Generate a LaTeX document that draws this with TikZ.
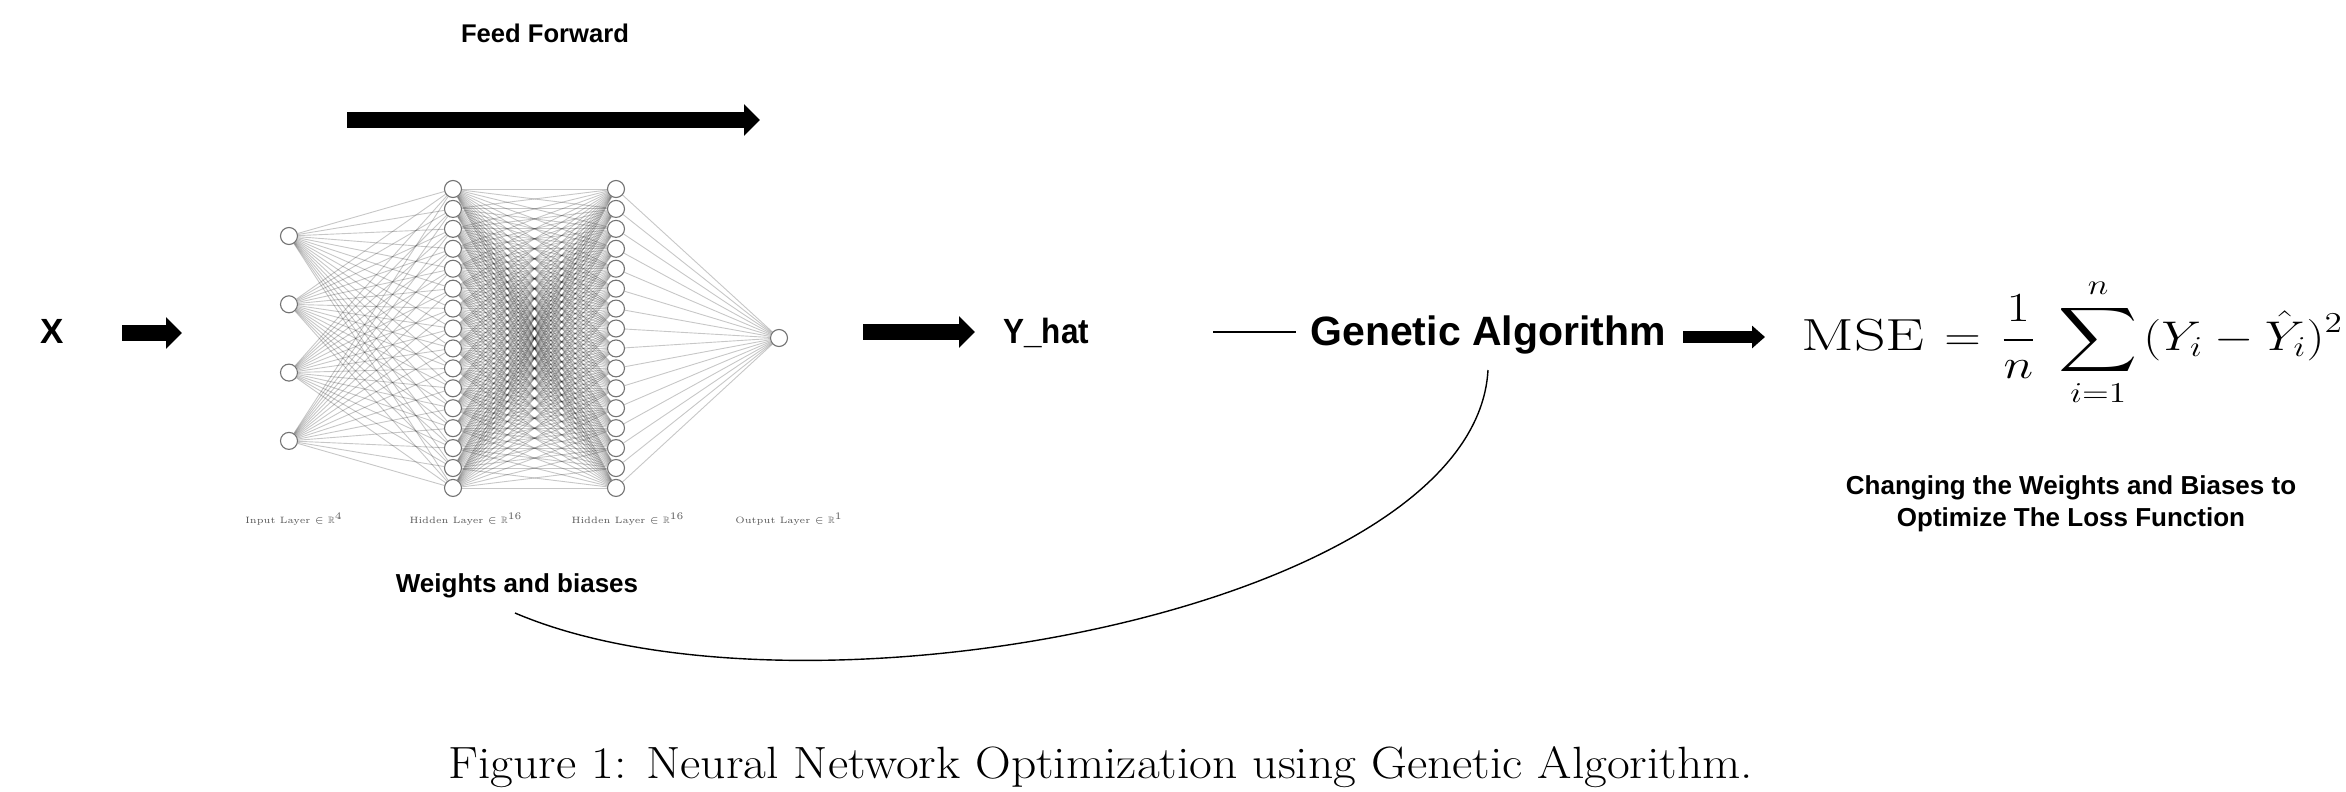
\documentclass[tikz,border=0pt]{standalone}
\usepackage{amsmath}
\usepackage{amssymb}
\usepackage{graphicx}
\usepackage{fontspec}
\newfontfamily\arialfont{Liberation Sans}
\usetikzlibrary{arrows.meta,backgrounds}
\begin{document}
\begin{tikzpicture}[x=0.5pt,y=-0.5pt,
  neuron/.style={circle,draw=black!55,fill=white,line width=0.55pt,minimum size=8.5pt,inner sep=0pt},
  syn/.style={draw=black,draw opacity=0.22,line width=0.45pt},
  fatarrow/.style={line width=8pt,-{Triangle[width=15.5pt,length=8pt]}},
  gaarrow/.style={line width=6pt,-{Triangle[width=11pt,length=6.5pt]}},
  thinline/.style={line width=0.7pt},
  sanslab/.style={inner sep=0pt,font={\arialfont\fontsize{#1}{#1}\selectfont\bfseries}},
  layerlab/.style={inner sep=0pt,text=black!65,font={\fontsize{4.6}{5}\selectfont}}
]
\useasboundingbox (0,0) rectangle (2346,792);

% neural network
\foreach \i in {1,...,4} \node[neuron] (in\i) at (289,{236+(\i-1)*68.3}) {};
\foreach \j in {1,...,16} {
  \node[neuron] (ha\j) at (453,{189+(\j-1)*19.93}) {};
  \node[neuron] (hb\j) at (616,{189+(\j-1)*19.93}) {};
}
\node[neuron] (out) at (779,338) {};
\begin{scope}[on background layer]
  \fill[white] (0,0) rectangle (2346,792);
  \foreach \i in {1,...,4} \foreach \j in {1,...,16} \draw[syn] (in\i) -- (ha\j);
  \foreach \i in {1,...,16} \foreach \j in {1,...,16} \draw[syn] (ha\i) -- (hb\j);
  \foreach \j in {1,...,16} \draw[syn] (hb\j) -- (out);
\end{scope}
\node[layerlab] (l1) at (294,519) {Input Layer $\in\mathbb{R}^{4}$};
\node[layerlab] (l2) at (466,519) {Hidden Layer $\in\mathbb{R}^{16}$};
\node[layerlab] (l3) at (628,519) {Hidden Layer $\in\mathbb{R}^{16}$};
\node[layerlab] (l4) at (789,519) {Output Layer $\in\mathbb{R}^{1}$};

% feed forward
\node[sanslab=12.8,anchor=base] (ff) at (545,43) {Feed Forward};
\coordinate (ffa) at (347,120);
\coordinate (ffb) at (760,120);
\draw[fatarrow] (ffa) -- (ffb);

% input
\node[sanslab=17.5,anchor=base] (x) at (52,343) {X};
\coordinate (xa) at (122,333);
\coordinate (xb) at (182,333);
\draw[fatarrow] (xa) -- (xb);

% output
\coordinate (ya) at (863,332);
\coordinate (yb) at (975,332);
\draw[fatarrow] (ya) -- (yb);
\node[sanslab=17.5,anchor=base west] (yhat) at (1003,343) {\scalebox{0.9}[1]{Y\_hat}};

\coordinate (la) at (1213,332);
\coordinate (lb) at (1296,332);
\draw[thinline] (la) -- (lb);

\node[sanslab=20.5,anchor=base west] (ga) at (1310,345) {Genetic Algorithm};
\coordinate (gaa) at (1683,337);
\coordinate (gab) at (1765,337);
\draw[gaarrow] (gaa) -- (gab);

\node[inner sep=0pt,anchor=base west,font={\fontsize{22.5}{26}\selectfont}] (mse) at (1801,350)
  {\scalebox{1.22}[1]{$\displaystyle \mbox{\scalebox{1.13}[1]{MSE}}\mskip2mu=\mskip2mu\frac{1}{n}\mskip5mu\sum_{i=1}^{n}\mskip2mu(Y_i-\hat{Y}_i)^2$}};

\node[inner sep=0pt,align=center,font={\arialfont\fontsize{13}{16}\selectfont\bfseries}] (chg) at (2071,504)
  {Changing the Weights and Biases to\\Optimize The Loss Function};

\node[sanslab=13,anchor=base] (wb) at (517,592) {Weights and biases};

\coordinate (gatop) at (1488,370);
\coordinate (wbend) at (515,613);
\draw[thinline] (gatop) .. controls (1475,610) and (800,735) .. (wbend);

\node[inner sep=0pt,anchor=base west,font={\fontsize{22.6}{27}\selectfont}] (cap) at (448,778)
  {\scalebox{1.096}[1]{Figure 1: Neural Network Optimization using Genetic Algorithm.}};
\end{tikzpicture}
\end{document}
